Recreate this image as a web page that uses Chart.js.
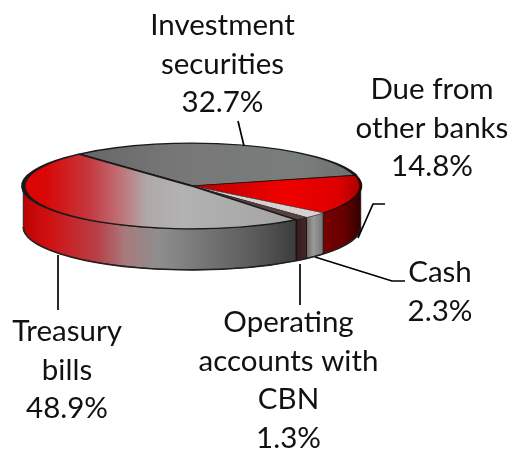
<!DOCTYPE html>
<html><head><meta charset="utf-8">
<style>html,body{margin:0;padding:0;background:#fff}canvas{display:block}</style>
<script src="https://cdn.jsdelivr.net/npm/chart.js@4"></script>
</head><body><canvas id="c" width="513" height="449"></canvas>
<script>
const categories = ["Investment securities","Due from other banks","Cash","Operating accounts with CBN","Treasury bills"];
const values = [32.7,14.8,2.3,1.3,48.9];
const labelLines = [["Investment","securities","32.7%"],["Due from","other banks","14.8%"],["Cash","2.3%"],["Operating","accounts with","CBN","1.3%"],["Treasury","bills","48.9%"]];

const labelAnchors = [[222.5,35],[432,99],[440,282],[288.5,332],[67,341]];
const lineGap = 38.7;
const leaders = [[[238,121],[244,146]],[[385,204],[373,204],[358,238]],[[315,257],[392,281],[405,281]],[[300,264],[300,305]],[[58,255],[58,310]]];
const ROT = -42, SQUASH = 0.254, DEPTH = 41;

const canvas = document.getElementById('c'), g = canvas.getContext('2d');
function grad(x0,x1,stops){const l=g.createLinearGradient(x0,0,x1,0);stops.forEach(s=>l.addColorStop(s[0],s[1]));return l;}
const topFill = [
  grad(80,355,[[0,'#666'],[.35,'#777'],[.8,'#797d7b'],[1,'#6c7270']]),
  grad(205,362,[[0,'#c00000'],[.5,'#f00000'],[.85,'#dd0000'],[1,'#a80000']]),
  '#d8d0ce',
  '#5a4040',
  grad(20,290,[[0,'#e00000'],[.1,'#d80808'],[.26,'#c43a40'],[.36,'#c06c72'],[.47,'#b0a8a8'],[.6,'#b2b2b2'],[1,'#a4a4a4']])
];
const sideFill = [
  '#555',
  grad(322,363,[[0,'#7a0000'],[.5,'#6a0000'],[1,'#2c0000']]),
  grad(307,323,[[0,'#6e6e6e'],[.4,'#9a9a9a'],[1,'#777']]),
  grad(296,308,[[0,'#2c1c1c'],[.3,'#3a2020'],[1,'#4a2828']]),
  grad(20,297,[[0,'#b80000'],[.1,'#d01010'],[.28,'#b84048'],[.38,'#a87a7c'],[.5,'#8e8e8e'],[.62,'#7c7c7c'],[.85,'#5a5a5a'],[1,'#3c3c3c']])
];
const edgeColors = ['#1a1a1a','#2a0808','#555','#222','#1a1a1a'];
const edgeWidths = [4.5,3,1.5,1.5,4.5];

function sidePiece(ctx,cx,cy,rx,ry,from,to,fill){
  ctx.beginPath();
  ctx.ellipse(cx,cy,rx,ry,0,from,to);
  ctx.ellipse(cx,cy+DEPTH,rx,ry,0,to,from,true);
  ctx.closePath();
  ctx.fillStyle=fill; ctx.fill();
  ctx.strokeStyle='rgba(20,10,10,.75)'; ctx.lineWidth=1; ctx.stroke();
  ctx.beginPath();
  ctx.ellipse(cx,cy+DEPTH,rx,ry,0,from,to);
  ctx.strokeStyle='#222'; ctx.lineWidth=1.6; ctx.stroke();
}

const pie3d = {
  id:'pie3d',
  beforeDatasetsDraw(chart){
    const ctx = chart.ctx, arcs = chart.getDatasetMeta(0).data;
    const first = arcs[0];
    const cy0 = first.y, rx = first.outerRadius, ry = rx*SQUASH, cx = first.x;
    const tau=Math.PI*2;
    arcs.forEach((a,i)=>{
      let s=a.startAngle, e=a.endAngle;
      while(s<0){s+=tau;e+=tau;}
      while(s>=tau){s-=tau;e-=tau;}
      if(e>tau) sidePiece(ctx,cx,cy0,rx,ry,0,Math.min(e-tau,Math.PI),sideFill[i]);
      const from=Math.max(s,0), to=Math.min(e,Math.PI);
      if(to>from) sidePiece(ctx,cx,cy0,rx,ry,from,to,sideFill[i]);
    });
    ctx.save();
    ctx.translate(0,cy0); ctx.scale(1,SQUASH); ctx.translate(0,-cy0);
  },
  afterDatasetsDraw(chart){
    const ctx=chart.ctx;
    ctx.restore();
    ctx.strokeStyle='#000'; ctx.lineWidth=1.7; ctx.lineJoin='miter';
    leaders.forEach(l=>{
      ctx.beginPath();
      l.forEach((p,i)=>i?ctx.lineTo(p[0],p[1]):ctx.moveTo(p[0],p[1]));
      ctx.stroke();
    });
    ctx.fillStyle='#111'; ctx.font='29.5px Lato, sans-serif';
    ctx.textAlign='center'; ctx.textBaseline='alphabetic';
    labelLines.forEach((ls,i)=>ls.forEach((t,j)=>{
      ctx.fillText(t,labelAnchors[i][0],labelAnchors[i][1]+j*lineGap);
    }));
  }
};

new Chart(canvas,{
  type:'pie',
  data:{labels:categories,datasets:[{data:values,backgroundColor:topFill,borderColor:edgeColors,borderWidth:edgeWidths,clip:false,hoverOffset:0}]},
  options:{
    responsive:false,animation:false,rotation:ROT,
    layout:{padding:{left:21,right:150,top:15,bottom:92}},
    plugins:{legend:{display:false},tooltip:{enabled:false}},
    events:[]
  },
  plugins:[pie3d]
});
</script></body></html>
